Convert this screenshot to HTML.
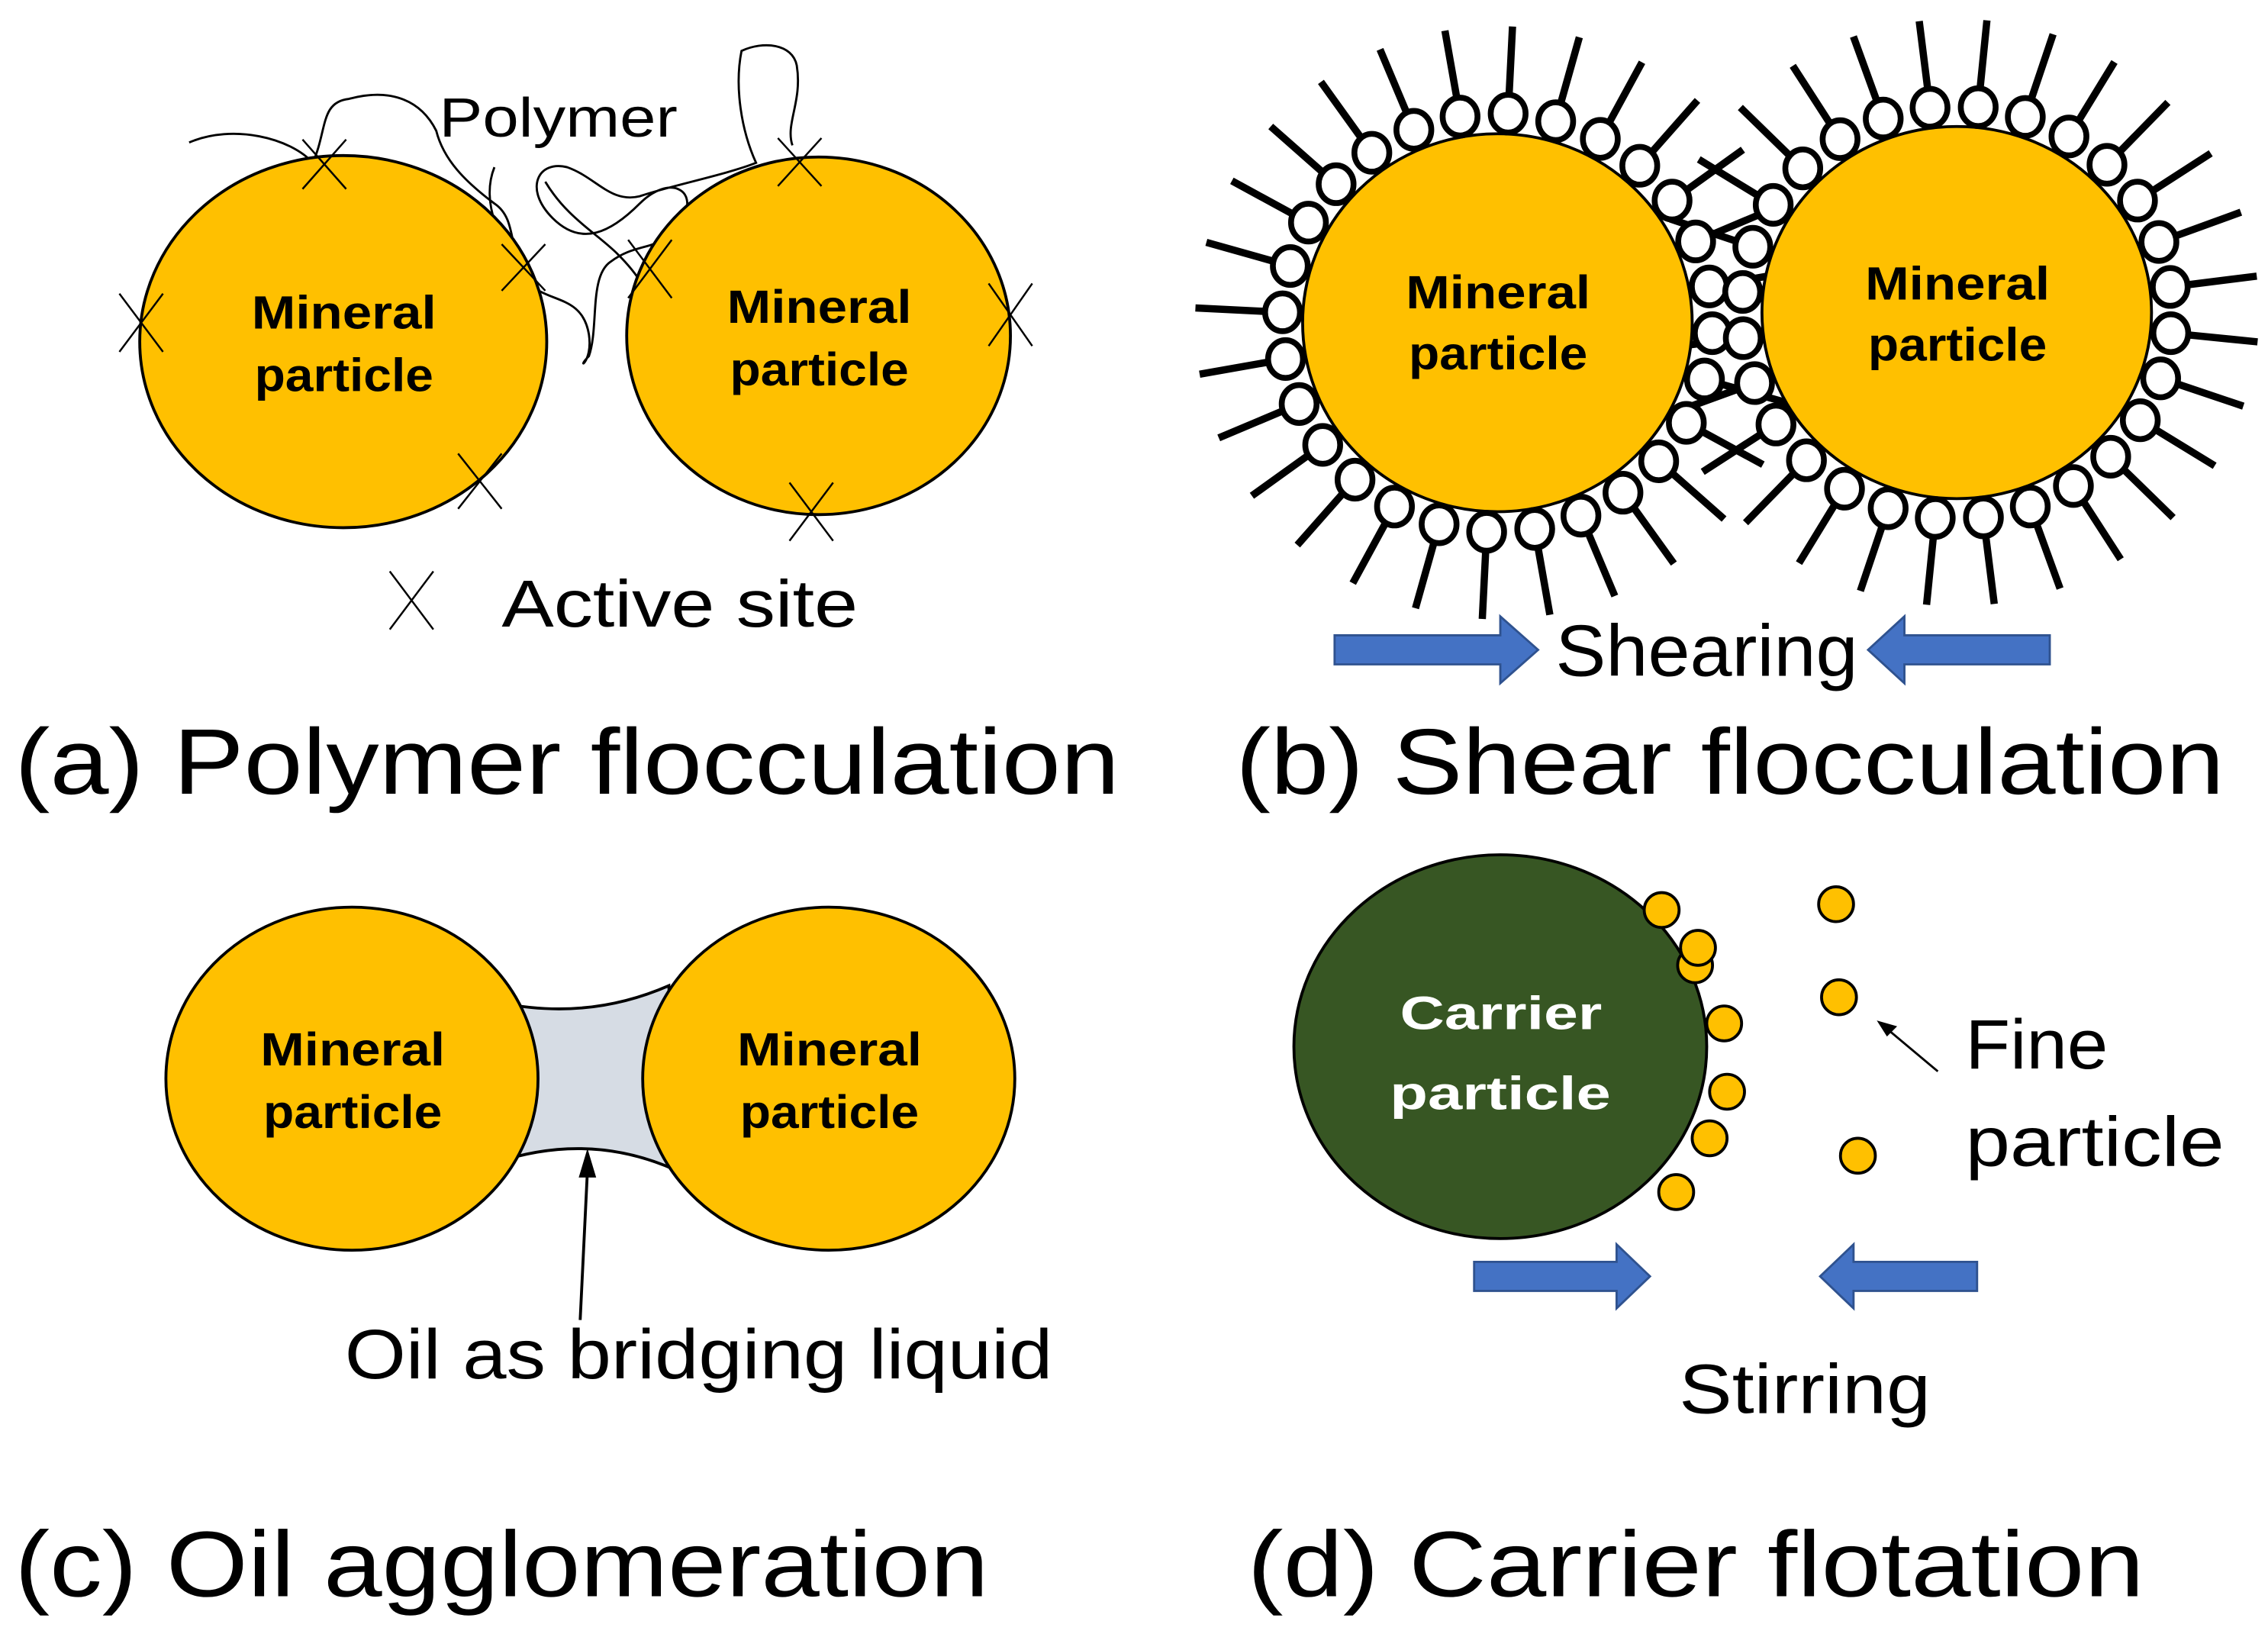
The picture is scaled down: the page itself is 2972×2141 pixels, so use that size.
<!DOCTYPE html>
<html><head><meta charset="utf-8"><style>
html,body{margin:0;padding:0;background:#fff;}
svg{display:block;}
text{font-family:"Liberation Sans","DejaVu Sans",sans-serif;}
.b{font-weight:bold;font-size:32px;}
</style></head><body>
<svg id="s" width="2972" height="2141" viewBox="0 0 1560 1124" xmlns="http://www.w3.org/2000/svg">
<rect width="1560" height="1124" fill="#fff"/>
<!-- (a) -->
<g stroke="#000" stroke-width="1.5" fill="none">
<path d="M130,98 C160,85 200,95 215,112 C225,90 220,70 240,68 C270,60 290,70 300,90 C305,110 320,125 340,140 C355,150 350,170 360,190 C372,210 400,200 405,230 C408,250 395,255 405,245 C412,225 405,190 420,180 C440,165 455,175 470,150 C480,130 460,120 440,140 C420,160 400,170 380,150 C360,130 370,110 390,115 C410,122 420,140 440,135 C460,128 500,120 520,112 C510,90 505,60 510,35 C525,28 545,30 548,45 C552,70 540,85 545,100"/>
<path d="M375,125 C390,150 410,160 425,175 C440,190 445,200 450,215"/>
<path d="M340,115 C330,140 345,170 360,185"/>
</g>
<ellipse cx="236" cy="235" rx="140" ry="128" fill="#ffc000" stroke="#000" stroke-width="2"/>
<ellipse cx="563" cy="231" rx="132" ry="123" fill="#ffc000" stroke="#000" stroke-width="2"/>
<g stroke="#000" stroke-width="1.3" fill="none">
<path d="M208,96 L238,130 M238,96 L208,130"/>
<path d="M82,202 L112,242 M112,202 L82,242"/>
<path d="M345,168 L375,200 M375,168 L345,200"/>
<path d="M315,312 L345,350 M345,312 L315,350"/>
<path d="M432,165 L462,205 M462,165 L432,205"/>
<path d="M535,95 L565,128 M565,95 L535,128"/>
<path d="M680,195 L710,238 M710,195 L680,238"/>
<path d="M543,332 L573,372 M573,332 L543,372"/>
<path d="M268,393 L298,433 M298,393 L268,433"/>
</g>
<text class="b" x="173" y="226" textLength="127" lengthAdjust="spacingAndGlyphs">Mineral</text><text class="b" x="175" y="269" textLength="123" lengthAdjust="spacingAndGlyphs">particle</text>
<text class="b" x="500" y="222" textLength="127" lengthAdjust="spacingAndGlyphs">Mineral</text><text class="b" x="502" y="265" textLength="123" lengthAdjust="spacingAndGlyphs">particle</text>
<text x="302" y="94" font-size="38" textLength="164" lengthAdjust="spacingAndGlyphs">Polymer</text>
<text x="345" y="431" font-size="46" textLength="245" lengthAdjust="spacingAndGlyphs">Active site</text>
<text x="10" y="546" font-size="64" textLength="760" lengthAdjust="spacingAndGlyphs">(a) Polymer flocculation</text>
<!-- (b) -->
<g id="hairs" stroke="#000" stroke-width="5" fill="#fff"></g>
<ellipse cx="1030" cy="222" rx="134" ry="130" fill="#ffc000" stroke="#000" stroke-width="2"/>
<ellipse cx="1346" cy="215" rx="134" ry="128" fill="#ffc000" stroke="#000" stroke-width="2"/>
<g id="rings" stroke="#000" stroke-width="4" fill="#fff"></g>
<text class="b" x="967" y="212" textLength="127" lengthAdjust="spacingAndGlyphs">Mineral</text><text class="b" x="969" y="254" textLength="123" lengthAdjust="spacingAndGlyphs">particle</text>
<text class="b" x="1283" y="206" textLength="127" lengthAdjust="spacingAndGlyphs">Mineral</text><text class="b" x="1285" y="248" textLength="123" lengthAdjust="spacingAndGlyphs">particle</text>
<path d="M918,437 L1032,437 L1032,424 L1058,447 L1032,470 L1032,457 L918,457 Z" fill="#4472c4" stroke="#2f528f" stroke-width="1.5"/>
<path d="M1410,437 L1310,437 L1310,424 L1285,447 L1310,470 L1310,457 L1410,457 Z" fill="#4472c4" stroke="#2f528f" stroke-width="1.5"/>
<text x="1070" y="465" font-size="50" textLength="208" lengthAdjust="spacingAndGlyphs">Shearing</text>
<text x="850" y="546" font-size="64" textLength="680" lengthAdjust="spacingAndGlyphs">(b) Shear flocculation</text>
<!-- (c) -->
<path d="M345,690 Q405,702 460,678 L465,805 Q405,778 340,800 Z" fill="#d6dce4" stroke="#000" stroke-width="2"/>
<ellipse cx="242" cy="742" rx="128" ry="118" fill="#ffc000" stroke="#000" stroke-width="2"/>
<ellipse cx="570" cy="742" rx="128" ry="118" fill="#ffc000" stroke="#000" stroke-width="2"/>
<text class="b" x="179" y="733" textLength="127" lengthAdjust="spacingAndGlyphs">Mineral</text><text class="b" x="181" y="776" textLength="123" lengthAdjust="spacingAndGlyphs">particle</text>
<text class="b" x="507" y="733" textLength="127" lengthAdjust="spacingAndGlyphs">Mineral</text><text class="b" x="509" y="776" textLength="123" lengthAdjust="spacingAndGlyphs">particle</text>
<line x1="399" y1="908" x2="404" y2="805" stroke="#000" stroke-width="2"/>
<path d="M404,790 L398,810 L410,810 Z" fill="#000"/>
<text x="237" y="948" font-size="48" textLength="487" lengthAdjust="spacingAndGlyphs">Oil as bridging liquid</text>
<text x="10" y="1098" font-size="64" textLength="670" lengthAdjust="spacingAndGlyphs">(c) Oil agglomeration</text>
<!-- (d) -->
<ellipse cx="1032" cy="720" rx="142" ry="132" fill="#375623" stroke="#000" stroke-width="2"/>
<text class="b" x="963" y="708" fill="#fff" font-size="38" textLength="139" lengthAdjust="spacingAndGlyphs">Carrier</text>
<text class="b" x="956" y="763" fill="#fff" font-size="38" textLength="152" lengthAdjust="spacingAndGlyphs">particle</text>
<g fill="#ffc000" stroke="#000" stroke-width="2">
<circle cx="1143" cy="626" r="12"/><circle cx="1166" cy="664" r="12"/><circle cx="1168" cy="652" r="12"/>
<circle cx="1186" cy="704" r="12"/><circle cx="1188" cy="751" r="12"/><circle cx="1176" cy="783" r="12"/>
<circle cx="1153" cy="820" r="12"/><circle cx="1263" cy="622" r="12"/><circle cx="1265" cy="686" r="12"/>
<circle cx="1278" cy="795" r="12"/></g>
<line x1="1333" y1="737" x2="1296" y2="706" stroke="#000" stroke-width="1.5"/>
<path d="M1291,702 L1305,706 L1298,713 Z" fill="#000"/>
<text x="1352" y="735" font-size="48" textLength="98" lengthAdjust="spacingAndGlyphs">Fine</text>
<text x="1352" y="802" font-size="48" textLength="178" lengthAdjust="spacingAndGlyphs">particle</text>
<path d="M1014,868 L1112,868 L1112,856 L1135,878 L1112,900 L1112,888 L1014,888 Z" fill="#4472c4" stroke="#2f528f" stroke-width="1.5"/>
<path d="M1360,868 L1275,868 L1275,856 L1252,878 L1275,900 L1275,888 L1360,888 Z" fill="#4472c4" stroke="#2f528f" stroke-width="1.5"/>
<text x="1155" y="972" font-size="48" textLength="173" lengthAdjust="spacingAndGlyphs">Stirring</text>
<text x="858" y="1098" font-size="64" textLength="617" lengthAdjust="spacingAndGlyphs">(d) Carrier flotation</text>
</svg>
<script>
var ns="http://www.w3.org/2000/svg",h=document.getElementById("hairs"),r=document.getElementById("rings");
function ring(cx,cy,rx,ry,n,off){
 for(var i=0;i<n;i++){var a=off+i*2*Math.PI/n,c=Math.cos(a),s=Math.sin(a);
  var px=cx+(rx+14)*c,py=cy+(ry+14)*s;
  var l=document.createElementNS(ns,"line");
  l.setAttribute("x1",cx+(rx+24)*c);l.setAttribute("y1",cy+(ry+24)*s);
  l.setAttribute("x2",cx+(rx+74)*c);l.setAttribute("y2",cy+(ry+74)*s);h.appendChild(l);
  var e=document.createElementNS(ns,"ellipse");e.setAttribute("cx",px);e.setAttribute("cy",py);
  e.setAttribute("rx",12);e.setAttribute("ry",13);r.appendChild(e);}
}
ring(1030,222,134,130,28,0.05);ring(1346,215,134,128,28,0.1);
</script>
</body></html>
